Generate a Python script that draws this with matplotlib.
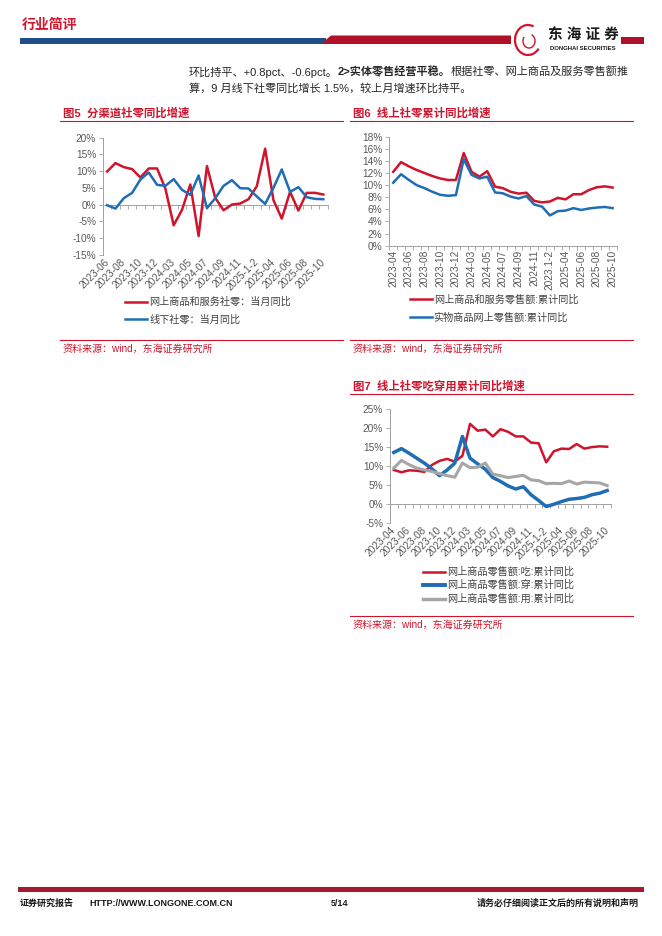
import numpy as np
import matplotlib.pyplot as plt
from matplotlib.lines import Line2D
from matplotlib.patches import Polygon, Rectangle, Arc

plt.rcParams['font.family'] = ['Liberation Sans', 'Noto Sans CJK SC']
plt.rcParams['axes.unicode_minus'] = False

W, H = 662, 936
RED = '#D0142C'
BLUE = '#1F6DB5'
GRAY = '#A6A6A6'
TXT = '#595959'
AXC = '#A0A0A0'

# ---- data: chart 5 (monthly yoy, 2023-06 .. 2025-10)
cats5 = ['2023-06', '2023-07', '2023-08', '2023-09', '2023-10', '2023-11', '2023-12',
         '2024-1-2', '2024-03', '2024-04', '2024-05', '2024-06', '2024-07', '2024-08',
         '2024-09', '2024-10', '2024-11', '2024-12', '2025-1-2', '2025-03', '2025-04',
         '2025-05', '2025-06', '2025-07', '2025-08', '2025-09', '2025-10']
online_month = [9.9, 12.4, 11.2, 10.6, 8.1, 10.8, 10.8, 4.8, -6.2, -1.6, 6.0, -9.4, 11.5,
                2.0, -1.7, 0.0, 0.3, 1.6, 5.5, 16.7, 1.3, -4.2, 3.8, -1.8, 3.5, 3.5, 3.0]
offline_month = [-0.2, -1.2, 1.9, 3.5, 7.5, 9.6, 5.9, 5.6, 7.6, 4.4, 2.9, 8.7, -1.1,
                 1.9, 5.6, 7.3, 4.9, 4.8, 2.4, 0.2, 5.0, 10.5, 3.8, 5.2, 2.2, 1.7, 1.6]
ticks5 = ['2023-06', '2023-08', '2023-10', '2023-12', '2024-03', '2024-05', '2024-07',
          '2024-09', '2024-11', '2025-1-2', '2025-04', '2025-06', '2025-08', '2025-10']

# ---- data: charts 6 & 7 (cumulative yoy, 2023-04 .. 2025-10)
cats6 = ['2023-04', '2023-05'] + cats5[:]
online_cum = [12.2, 13.8, 13.1, 12.5, 12.0, 11.5, 11.1, 10.85, 10.85, 15.3, 12.2, 11.4,
              12.3, 9.75, 9.5, 8.9, 8.6, 8.75, 7.4, 7.15, 7.3, 7.9, 7.65, 8.5, 8.5, 9.2,
              9.65, 9.8, 9.6]
physical_cum = [10.4, 11.8, 10.85, 10.0, 9.5, 8.9, 8.4, 8.25, 8.35, 14.3, 11.7, 11.1,
                11.4, 8.8, 8.65, 8.1, 7.8, 8.2, 6.8, 6.45, 5.0, 5.7, 5.8, 6.2, 5.9, 6.15,
                6.3, 6.4, 6.2]
ticks6 = ['2023-04', '2023-06', '2023-08', '2023-10', '2023-12', '2024-03', '2024-05',
          '2024-07', '2024-09', '2024-11', '2023.1-2', '2025-04', '2025-06', '2025-08',
          '2025-10']
ticks7 = ticks6[:10] + ['2025-1-2'] + ticks6[11:]

food_cum = [9.0, 8.4, 8.9, 8.8, 8.5, 10.3, 11.4, 11.9, 11.2, 12.7, 21.1, 19.3, 19.6, 17.8,
            19.7, 19.0, 17.8, 17.8, 16.2, 16.0, 11.0, 13.9, 14.6, 14.5, 15.8, 14.6, 15.0,
            15.2, 15.1]
wear_cum = [13.6, 14.6, 13.4, 12.1, 10.8, 9.3, 7.5, 9.0, 10.8, 17.8, 12.1, 10.6, 9.2, 7.0,
            6.0, 4.8, 4.0, 4.6, 2.5, 1.0, -0.6, 0.0, 0.7, 1.3, 1.5, 1.8, 2.5, 2.9, 3.6]
use_cum = [9.5, 11.5, 10.4, 9.5, 9.0, 8.6, 8.0, 7.5, 7.1, 10.8, 9.6, 9.7, 10.8, 7.9, 7.5,
           7.0, 7.3, 7.6, 6.4, 6.2, 5.4, 5.5, 5.4, 6.1, 5.3, 5.8, 5.7, 5.6, 4.9]

fig = plt.figure(figsize=(W / 100, H / 100), dpi=100)


def fx(x):
    return x / W


def fy(y):
    return 1 - y / H


def px_axes(x0, y0, x1, y1):
    return fig.add_axes([fx(x0), fy(y1), (x1 - x0) / W, (y1 - y0) / H])


def setup(ax, n, ylo, yhi, step, labels, rot):
    ax.set_xlim(-0.5, n - 0.5)
    ax.set_ylim(ylo, yhi)
    yt = np.arange(ylo, yhi + step / 2, step)
    ax.set_yticks(yt)
    ax.set_yticklabels([f'{v:g}%' for v in yt])
    ax.set_xticks(np.arange(0, n, 2))
    if rot == 90:
        ax.set_xticklabels(labels, rotation=90, ha='center', va='top')
    else:
        ax.set_xticklabels(labels, rotation=rot, ha='right', va='center',
                           rotation_mode='anchor')
    for s in ['top', 'right', 'bottom']:
        ax.spines[s].set_visible(False)
    ax.spines['left'].set_color(AXC)
    ax.spines['left'].set_linewidth(0.7)
    ax.tick_params(axis='y', length=3, width=0.6, color=AXC, labelsize=7.3,
                   labelcolor=TXT, pad=2)
    ax.tick_params(axis='x', length=0, labelsize=7.3, labelcolor=TXT,
                   pad=4 if rot != 90 else 3)
    sec = ax.secondary_xaxis((0 - ylo) / (yhi - ylo))
    sec.set_xticks(np.arange(-0.5, n, 1))
    sec.set_xticklabels([])
    sec.tick_params(length=3, width=0.6, color=AXC)
    for s in ['top', 'bottom']:
        sec.spines[s].set_color(AXC)
        sec.spines[s].set_linewidth(0.7)


def title_block(x0, x1, y, text):
    fig.text(fx(x0 + 3), fy(y), text, fontsize=8.2, fontweight='bold', color=RED,
             va='center', ha='left')
    fig.add_artist(Line2D([fx(x0), fx(x1)], [fy(y + 8)] * 2, color=RED, lw=0.8))


def source_block(x0, x1, y):
    fig.add_artist(Line2D([fx(x0), fx(x1)], [fy(y)] * 2, color=RED, lw=0.8))
    fig.text(fx(x0 + 3), fy(y + 8.5), '资料来源：wind，东海证券研究所', fontsize=7.2,
             color=RED, va='center', ha='left')


def legend_rows(x0, x1, ys, items):
    for y, (lbl, c, lw) in zip(ys, items):
        fig.add_artist(Line2D([fx(x0), fx(x1)], [fy(y)] * 2, color=c, lw=lw))
        fig.text(fx(x1 + 2), fy(y), lbl, fontsize=7.3, color='#404040',
                 va='center', ha='left')


# ---- header
fig.text(fx(22), fy(25), '行业简评', fontsize=10, fontweight='bold', color=RED,
         va='center', ha='left')
fig.add_artist(Rectangle((fx(20), fy(43.5)), 306 / W, 5.5 / H, transform=fig.transFigure,
                         color='#1F4E89', lw=0))
fig.add_artist(Polygon([(fx(321), fy(44)), (fx(331), fy(35.5)), (fx(511), fy(35.5)),
                        (fx(511), fy(44))], closed=True, transform=fig.transFigure,
                       color='#B01028', lw=0))
fig.add_artist(Rectangle((fx(621), fy(44)), 23 / W, 7.5 / H, transform=fig.transFigure,
                         color='#B01028', lw=0))
fig.add_artist(Arc((fx(528), fy(40)), 26 / W, 30 / H, theta1=60, theta2=330,
                   transform=fig.transFigure, color=RED, lw=1.6))
fig.add_artist(Arc((fx(529), fy(41)), 12 / W, 14 / H, theta1=150, theta2=420,
                   transform=fig.transFigure, color=RED, lw=1.0))
fig.text(fx(583), fy(35), '东 海 证 券', fontsize=10.5, fontweight='bold', color='#1a1a1a',
         va='center', ha='center')
fig.text(fx(583), fy(48.5), 'DONGHAI SECURITIES', fontsize=4.3, fontweight='bold',
         color='#1a1a1a', va='center', ha='center')

# ---- paragraph (mixed regular / bold runs)
fig.canvas.draw()
rend = fig.canvas.get_renderer()


def runs(x, y, parts):
    for s, w in parts:
        t = fig.text(fx(x), fy(y), s, fontsize=8, fontweight=w, color='#262626',
                     va='center', ha='left')
        x = t.get_window_extent(renderer=rend).x1


runs(189, 72, [('环比持平、+0.8pct、-0.6pct。', 'normal'), ('2>实体零售经营平稳。', 'bold'),
               ('根据社零、网上商品及服务零售额推', 'normal')])
runs(189, 88, [('算，9 月线下社零同比增长 1.5%，较上月增速环比持平。', 'normal')])

# ---- chart 5
title_block(60, 343, 113, '图5  分渠道社零同比增速')
ax5 = px_axes(103, 137.7, 327.5, 254.7)
x5 = np.arange(len(cats5))
ax5.plot(x5, online_month, color=RED, lw=1.8)
ax5.plot(x5, offline_month, color=BLUE, lw=1.8)
setup(ax5, len(cats5), -15, 20, 5, ticks5, 45)
legend_rows(125, 147, [301.7, 319.3], [('网上商品和服务社零：当月同比', RED, 1.8),
                                       ('线下社零：当月同比', BLUE, 1.8)])
source_block(60, 343, 340)

# ---- chart 6
title_block(350, 633, 113, '图6  线上社零累计同比增速')
ax6 = px_axes(389.3, 136.7, 616.5, 245.7)
x6 = np.arange(len(cats6))
ax6.plot(x6, online_cum, color=RED, lw=1.8)
ax6.plot(x6, physical_cum, color=BLUE, lw=1.8)
setup(ax6, len(cats6), 0, 18, 2, ticks6, 90)
legend_rows(410, 431.7, [299.3, 317.3], [('网上商品和服务零售额:累计同比', RED, 1.8),
                                         ('实物商品网上零售额:累计同比', BLUE, 1.8)])
source_block(350, 633, 340)

# ---- chart 7
title_block(350, 633, 386, '图7  线上社零吃穿用累计同比增速')
ax7 = px_axes(390, 409, 611, 523.3)
ax7.plot(x6, food_cum, color=RED, lw=1.8)
ax7.plot(x6, wear_cum, color=BLUE, lw=2.5)
ax7.plot(x6, use_cum, color=GRAY, lw=2.2)
setup(ax7, len(cats6), -5, 25, 5, ticks7, 45)
legend_rows(423, 445, [571.7, 585, 599], [('网上商品零售额:吃:累计同比', RED, 1.8),
                                          ('网上商品零售额:穿:累计同比', BLUE, 2.8),
                                          ('网上商品零售额:用:累计同比', GRAY, 2.5)])
source_block(350, 633, 616)

# ---- footer
fig.add_artist(Rectangle((fx(18), fy(891.5)), 626 / W, 4.5 / H, transform=fig.transFigure,
                         color='#A6192E', lw=0))
fig.text(fx(20), fy(903), '证券研究报告', fontsize=6.5, fontweight='bold', color='#1a1a1a',
         va='center', ha='left')
fig.text(fx(89), fy(903), 'HTTP://WWW.LONGONE.COM.CN', fontsize=6.5, fontweight='bold',
         color='#1a1a1a', va='center', ha='left')
fig.text(fx(331), fy(903), '5/14', fontsize=6.5, fontweight='bold', color='#1a1a1a',
         va='center', ha='left')
fig.text(fx(639), fy(903), '请务必仔细阅读正文后的所有说明和声明', fontsize=6.5,
         fontweight='bold', color='#1a1a1a', va='center', ha='right')

fig.savefig('out.png', dpi=100)
